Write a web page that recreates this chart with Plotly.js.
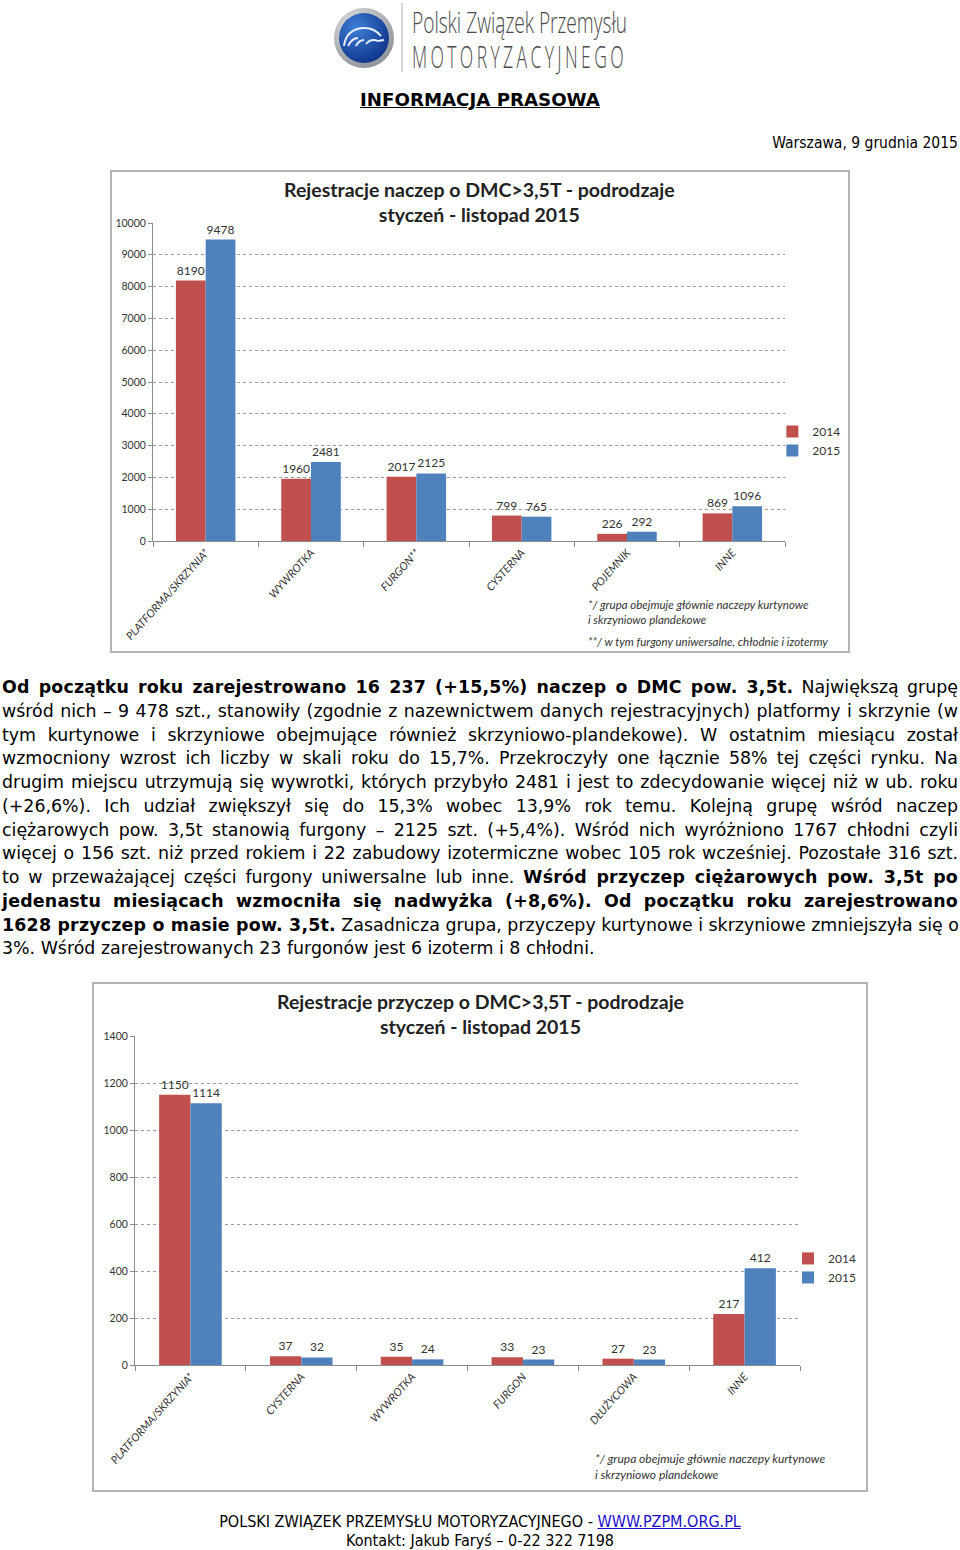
<!DOCTYPE html>
<html>
<head>
<meta charset="utf-8">
<script src="https://cdn.plot.ly/plotly-3.0.1.min.js"></script>
<style>
  body { margin: 0; background: #fff; }
  #page { position: relative; width: 960px; height: 1550px; overflow: hidden; background: #fff; }
  .abs { position: absolute; }
  #naglowek { left: 0; top: 89px; width: 960px; text-align: center; font: bold 18.2px "DejaVu Sans", sans-serif; text-decoration: underline; }
  #data { right: 2px; top: 134px; font: 15.5px "DejaVu Sans Condensed", "DejaVu Sans", sans-serif; }
  #tekst { left: 2px; top: 676px; width: 956px; font: 17.4px "DejaVu Sans", sans-serif; line-height: 23.75px; color: #000; }
  #tekst div { text-align: justify; text-align-last: justify; height: 23.75px; white-space: nowrap; }
  #tekst div.ost { text-align-last: left; }
  #tekst b { letter-spacing: 0.2px; }
  .ramka { border: 2px solid #b4b4b4; }
  #stopka { left: 0; top: 1512px; width: 960px; text-align: center; font: 16px "DejaVu Sans Condensed", "DejaVu Sans", sans-serif; line-height: 19px; }
  #stopka a { color: #1a0dcc; text-decoration: underline; }
</style>
</head>
<body>
<div id="page">
  <svg class="abs" style="left:0;top:0" width="960" height="80">
    <defs>
      <radialGradient id="rim" cx="0.4" cy="0.35" r="0.7">
        <stop offset="0" stop-color="#f4f4f4"/><stop offset="1" stop-color="#8a8f96"/>
      </radialGradient>
      <radialGradient id="blu" cx="0.35" cy="0.3" r="0.8">
        <stop offset="0" stop-color="#3f7fd6"/><stop offset="1" stop-color="#0b2f86"/>
      </radialGradient>
    </defs>
    <circle cx="364" cy="38" r="30" fill="url(#rim)"/>
    <circle cx="364" cy="38" r="25" fill="url(#blu)"/>
    <path d="M344 46 Q346 30 362 28 Q374 27 381 36" stroke="#e8eefc" stroke-width="2" fill="none"/>
    <path d="M348 46 Q352 38 358 38" stroke="#e8eefc" stroke-width="1.8" fill="none"/>
    <path d="M356 46 Q359 40 364 40" stroke="#e8eefc" stroke-width="1.8" fill="none"/>
    <path d="M366 44 Q371 38 378 41 L384 40" stroke="#e8eefc" stroke-width="1.8" fill="none"/>
    <line x1="402" y1="3" x2="402" y2="72" stroke="#c8c8c8" stroke-width="1.5"/>
    <text x="412" y="33" textLength="215" lengthAdjust="spacingAndGlyphs" font-family="'Open Sans', 'DejaVu Sans Condensed', sans-serif" font-weight="300" font-size="29" fill="#4a4a4a">Polski Związek Przemysłu</text>
    <text x="412" y="68" textLength="215" lengthAdjust="spacingAndGlyphs" letter-spacing="6" font-family="'Open Sans', 'DejaVu Sans Condensed', sans-serif" font-weight="300" font-size="31" fill="#4a4a4a">MOTORYZACYJNEGO</text>
  </svg>
  <div id="naglowek" class="abs">INFORMACJA PRASOWA</div>
  <div id="data" class="abs">Warszawa, 9 grudnia 2015</div>

  <div class="abs ramka" style="left:110px;top:170px;"><div id="wykres1" style="width:736px;height:479px;"></div></div>

  <div id="tekst" class="abs">
    <div><b>Od początku roku zarejestrowano 16 237 (+15,5%) naczep o DMC pow. 3,5t.</b> Największą grupę</div>
    <div>wśród nich – 9 478 szt., stanowiły (zgodnie z nazewnictwem danych rejestracyjnych) platformy i skrzynie (w</div>
    <div>tym kurtynowe i skrzyniowe obejmujące również skrzyniowo-plandekowe). W ostatnim miesiącu został</div>
    <div>wzmocniony wzrost ich liczby w skali roku do 15,7%. Przekroczyły one łącznie 58% tej części rynku. Na</div>
    <div>drugim miejscu utrzymują się wywrotki, których przybyło 2481 i jest to zdecydowanie więcej niż w ub. roku</div>
    <div>(+26,6%). Ich udział zwiększył się do 15,3% wobec 13,9% rok temu. Kolejną grupę wśród naczep</div>
    <div>ciężarowych pow. 3,5t stanowią furgony – 2125 szt. (+5,4%). Wśród nich wyróżniono 1767 chłodni czyli</div>
    <div>więcej o 156 szt. niż przed rokiem i 22 zabudowy izotermiczne wobec 105 rok wcześniej. Pozostałe 316 szt.</div>
    <div>to w przeważającej części furgony uniwersalne lub inne. <b>Wśród przyczep ciężarowych pow. 3,5t po</b></div>
    <div><b>jedenastu miesiącach wzmocniła się nadwyżka (+8,6%). Od początku roku zarejestrowano</b></div>
    <div><b>1628 przyczep o masie pow. 3,5t.</b> Zasadnicza grupa, przyczepy kurtynowe i skrzyniowe zmniejszyła się o</div>
    <div class="ost">3%. Wśród zarejestrowanych 23 furgonów jest 6 izoterm i 8 chłodni.</div>
  </div>

  <div class="abs ramka" style="left:92px;top:982px;"><div id="wykres2" style="width:772px;height:506px;"></div></div>

  <div id="stopka" class="abs">POLSKI ZWIĄZEK PRZEMYSŁU MOTORYZACYJNEGO - <a href="#">WWW.PZPM.ORG.PL</a><br>Kontakt: Jakub Faryś – 0-22 322 7198</div>
</div>

<script>
// naczepy (wykres 1)
var kategorieNaczepy = ["PLATFORMA/SKRZYNIA*", "WYWROTKA", "FURGON**", "CYSTERNA", "POJEMNIK", "INNE"];
var naczepy2014 = [8190, 1960, 2017, 799, 226, 869];
var naczepy2015 = [9478, 2481, 2125, 765, 292, 1096];
var tickiNaczepy = [0, 1000, 2000, 3000, 4000, 5000, 6000, 7000, 8000, 9000, 10000];

// przyczepy (wykres 2)
var kategoriePrzyczepy = ["PLATFORMA/SKRZYNIA*", "CYSTERNA", "WYWROTKA", "FURGON", "DŁUŻYCOWA", "INNE"];
var przyczepy2014 = [1150, 37, 35, 33, 27, 217];
var przyczepy2015 = [1114, 32, 24, 23, 23, 412];
var tickiPrzyczepy = [0, 200, 400, 600, 800, 1000, 1200, 1400];

var CZERWONY = "#c0504d", NIEBIESKI = "#4f81bd";
var FONT = "Lato, 'Open Sans', sans-serif";

function seria(nazwa, x, y, kolor) {
    return {
        type: "bar", name: nazwa, x: x, y: y,
        marker: {color: kolor},
        text: y.map(String), textposition: "outside",
        textfont: {family: FONT, size: 12, color: "#333"},
        cliponaxis: false, constraintext: "none", hoverinfo: "skip"
    };
}

// tytul jako adnotacja - tytul plotly ucinal pierwsza linie
function tytul(tekst, x, y) {
    return {text: tekst, xref: "paper", yref: "paper", x: x, y: y, xanchor: "center", yanchor: "middle",
            showarrow: false, font: {family: FONT, size: 19.5, color: "#222", weight: "bold"}};
}

function przypis(tekst, x, y, rozmiar) {
    return {text: tekst, xref: "paper", yref: "paper", x: x, y: y, xanchor: "left", yanchor: "middle",
            showarrow: false, align: "left",
            font: {family: FONT, size: rozmiar, color: "#333", style: "italic"}};
}

function uklad(ticki, marg, legX, legY, adnotacje) {
    marg.autoexpand = false;
    return {
        margin: marg,
        paper_bgcolor: "#fff", plot_bgcolor: "#fff",
        showlegend: true,
        barmode: "group", bargap: 0.435, bargroupgap: 0,
        xaxis: {type: "category", showline: true, linecolor: "#8c8c8c", linewidth: 1,
                ticks: "outside", tickson: "boundaries", ticklen: 5, tickcolor: "#8c8c8c",
                tickangle: -48, tickfont: {family: FONT, size: 11, color: "#333", style: "italic"},
                showgrid: false},
        yaxis: {range: [0, ticki[ticki.length - 1]], tickvals: ticki, tickformat: "d",
                showline: true, linecolor: "#8c8c8c", linewidth: 1,
                ticks: "outside", ticklen: 4, tickcolor: "#8c8c8c",
                tickfont: {family: FONT, size: 10.5, color: "#333"},
                showgrid: true, gridcolor: "#9a9a9a", griddash: "dot", gridwidth: 1,
                zeroline: false},
        legend: {x: legX, y: legY, xanchor: "left", yanchor: "top",
                 font: {family: FONT, size: 12, color: "#333"}, bgcolor: "rgba(0,0,0,0)"},
        annotations: adnotacje
    };
}

Plotly.newPlot("wykres1",
    [seria("2014", kategorieNaczepy, naczepy2014, CZERWONY),
     seria("2015", kategorieNaczepy, naczepy2015, NIEBIESKI)],
    uklad(tickiNaczepy, {l: 41, r: 63, t: 51, b: 110}, 0.98, 0.39,
          [tytul("Rejestracje naczep o DMC>3,5T - podrodzaje<br>styczeń - listopad 2015", 0.516, 1.0676),
           przypis("*/ grupa obejmuje głównie naczepy kurtynowe<br>i skrzyniowo plandekowe", 0.685, -0.222, 11.5),
           przypis("**/ w tym furgony uniwersalne, chłodnie i izotermy", 0.685, -0.315, 11.5)]),
    {displayModeBar: false, staticPlot: true});

Plotly.newPlot("wykres2",
    [seria("2014", kategoriePrzyczepy, przyczepy2014, CZERWONY),
     seria("2015", kategoriePrzyczepy, przyczepy2015, NIEBIESKI)],
    uklad(tickiPrzyczepy, {l: 41, r: 66, t: 52, b: 125}, 0.982, 0.368,
          [tytul("Rejestracje przyczep o DMC>3,5T - podrodzaje<br>styczeń - listopad 2015", 0.519, 1.0669),
           przypis("*/ grupa obejmuje głównie naczepy kurtynowe<br>i skrzyniowo plandekowe", 0.688, -0.31, 12)]),
    {displayModeBar: false, staticPlot: true});
</script>
</body>
</html>
